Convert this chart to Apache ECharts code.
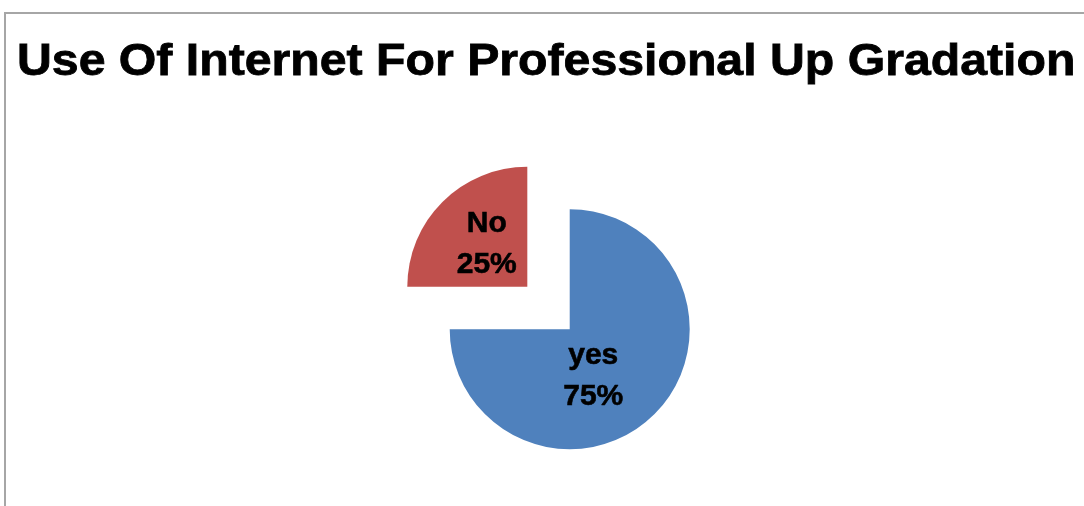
<!DOCTYPE html>
<html>
<head>
<meta charset="utf-8">
<script src="https://cdn.jsdelivr.net/npm/echarts@6/dist/echarts.min.js"></script>
<style>
  html, body { margin: 0; padding: 0; background: #ffffff; }
  #chart { width: 1084px; height: 506px; }
</style>
</head>
<body>
<div id="chart"></div>
<script>
const titleText = 'Use Of Internet For Professional Up Gradation';
const categories = ['yes', 'No'];
const shares = [75, 25];
const sliceColors = ['#4F81BD', '#C0504D'];
// per-slice shift of each label from its default inside spot, in px
const labelShifts = [[-21, 2], [4, 2]];

const fontStack = 'Arial, "Liberation Sans", sans-serif';

const pieData = categories.map((name, i) => ({
  name: name,
  value: shares[i],
  selected: true,
  itemStyle: { color: sliceColors[i] }
}));

const chart = echarts.init(document.getElementById('chart'), null, { renderer: 'canvas' });
chart.setOption({
  backgroundColor: '#ffffff',
  animation: false,
  graphic: [{
    type: 'rect',
    shape: { x: 5, y: 13, width: 1200, height: 600 },
    style: { fill: 'none', stroke: '#a6a6a6', lineWidth: 2 },
    silent: true,
    z: -1
  }, {
    // heading, widened slightly for a broad, heavy bold look
    type: 'text',
    x: 17,
    y: 63,
    scaleX: 1.096,
    silent: true,
    style: {
      text: titleText,
      fontFamily: fontStack,
      fontWeight: 'bold',
      fontSize: 44,
      fill: '#000000',
      stroke: '#000000',
      lineWidth: 0.8,
      textVerticalAlign: 'middle'
    }
  }],
  series: [{
    type: 'pie',
    center: [548.5, 308],
    radius: 120,
    startAngle: 90,
    clockwise: true,
    selectedMode: 'multiple',
    selectedOffset: 30,
    silent: true,
    emphasis: { disabled: true, scale: false },
    select: { itemStyle: { borderWidth: 0 } },
    itemStyle: { borderWidth: 0 },
    label: {
      show: true,
      position: 'inside',
      formatter: '{b}\n{d}%',
      fontFamily: fontStack,
      fontWeight: 'bold',
      fontSize: 30,
      lineHeight: 41,
      color: '#000000',
      textBorderColor: '#000000',
      textBorderWidth: 0.6
    },
    labelLayout: function (params) {
      const s = labelShifts[params.dataIndex];
      return { dx: s[0], dy: s[1] };
    },
    labelLine: { show: false },
    data: pieData
  }]
});
</script>
</body>
</html>
